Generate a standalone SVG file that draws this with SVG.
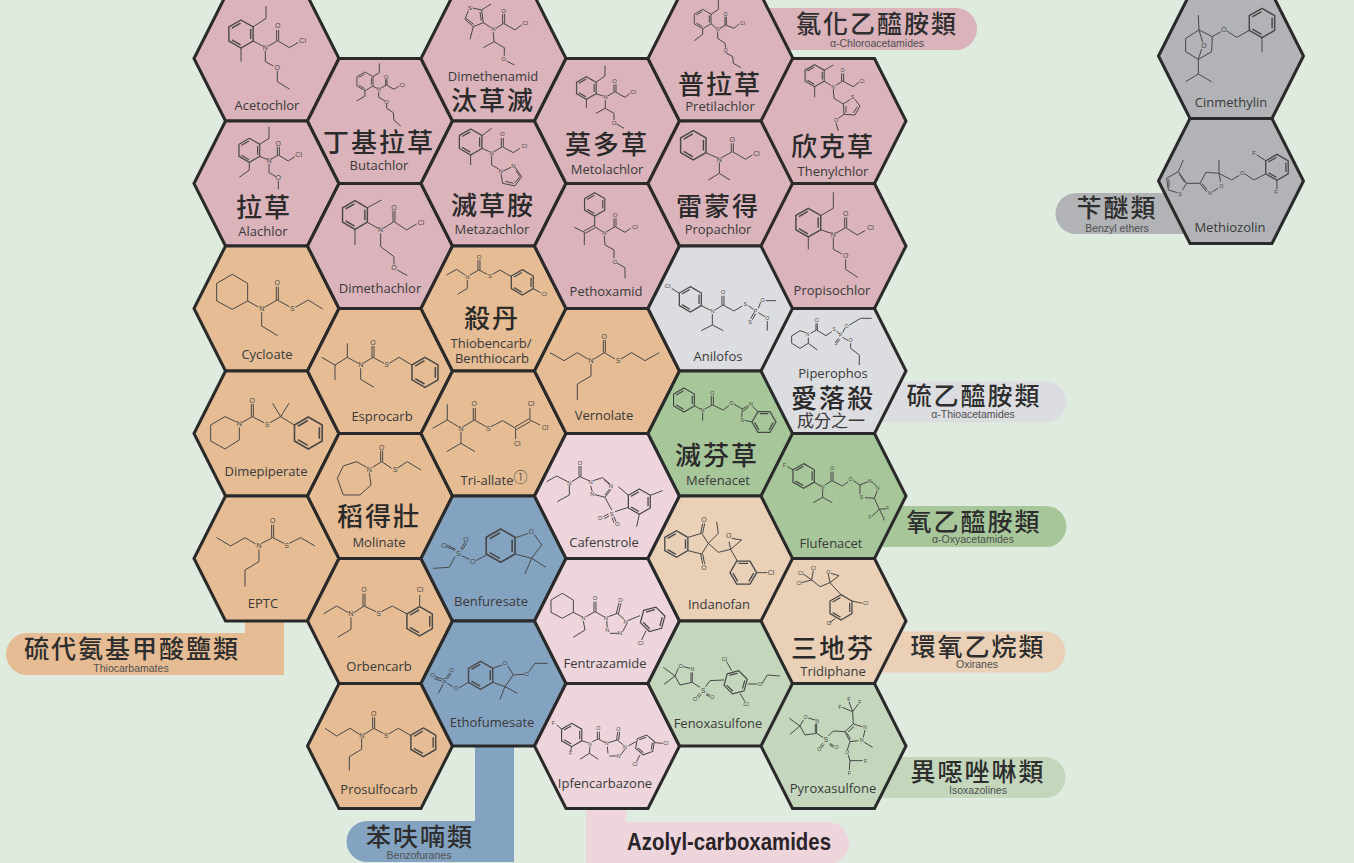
<svg xmlns="http://www.w3.org/2000/svg" xmlns:xlink="http://www.w3.org/1999/xlink" width="1354" height="863" viewBox="0 0 1354 863">
<style>
.hx{stroke:#2a2a2a;stroke-width:3;stroke-linejoin:miter}
.pink{fill:#dab3bb}.or{fill:#e5bc93}.gy{fill:#dcdde0}.gr{fill:#a7c79a}.lp{fill:#edd5db}.pe{fill:#e9d0b6}.lg{fill:#c4d7bd}.bl{fill:#84a3c1}.dg{fill:#b1b3b6}
.m path,.m use{fill:none;stroke:#484848;stroke-width:1;vector-effect:non-scaling-stroke}
.a{font:21px "Liberation Sans",sans-serif;fill:#484848;text-anchor:middle;dominant-baseline:central}
.n{font:13px "Open Sans",sans-serif;fill:#3a3a3a;text-anchor:middle}
.c{font:500 26px "Noto Sans CJK TC",sans-serif;fill:#2a2a2a;text-anchor:middle;letter-spacing:2px}
.l{font:500 25px "Noto Sans CJK TC",sans-serif;fill:#2e2e2e;text-anchor:middle;letter-spacing:2px}
.s{font:10.5px "Liberation Sans",sans-serif;fill:#505050;text-anchor:middle}
</style>
<defs>
<path id="hex" d="M-72.5 0L-41 -62.5H41L72.5 0L41 62.5H-41Z"/>
<path id="bz" d="M0 -10L8.66 -5V5L0 10L-8.66 5V-5ZM6.9 -3.6V3.6M-.33 7.78L-6.57 4.18M-6.57 -4.18L-.33 -7.78"/>
</defs>
<rect width="1354" height="863" fill="#e0ebdf"/>

<g id="legends">
<g id="leg-chloro"><path class="pink" d="M760 8H956a21 21 0 0 1 0 42H760Z"/></g>
<g id="leg-benzyl"><path class="dg" d="M1076 193H1190V234H1076a20.500 20.500 0 0 1 0 -41Z"/></g>
<g id="leg-thio"><path class="gy" d="M880 381.500H1046a20.500 20.500 0 0 1 0 41H880Z"/></g>
<g id="leg-oxy"><path class="gr" d="M880 506H1046a20.500 20.500 0 0 1 0 41H880Z"/></g>
<g id="leg-oxirane"><path class="pe" d="M880 631.500H1045a20.500 20.500 0 0 1 0 41H880Z"/></g>
<g id="leg-isox"><path class="lg" d="M880 757H1045a20.500 20.500 0 0 1 0 41H880Z"/></g>
<g id="leg-thiocarb"><path class="or" d="M27 633H245V615H284V675H27a21 21 0 0 1 0 -42Z"/></g>
<g id="leg-benzo"><path class="bl" d="M367 821H475V740H514V862H367a20.500 20.500 0 0 1 0 -41Z"/></g>
<g id="leg-azolyl"><path class="lp" d="M586 780H626V822H828a21 21 0 0 1 0 42H586Z"/></g>
</g>

<g id="connectors"></g>

<g id="acetochlor"><use href="#hex" class="hx pink" transform="translate(266.500 58.500)"/>
<g class="m" transform="translate(190 0) scale(.3333)"><use href="#bz" transform="translate(153 102) scale(4.200)"/><path d="M189 81L228 55V18M153 144V185M189 123L218 138M235 138L263 122M260 122V90M266 122V90M263 122L298 143L325 127M226 152V185L250 198M262 212V245L298 267"/><text class="a" x="263" y="78">O</text><text class="a" x="226" y="144">N</text><text class="a" x="338" y="122">Cl</text><text class="a" x="262" y="203">O</text></g>
<text class="n" x="267" y="110">Acetochlor</text></g>

<g id="alachlor"><use href="#hex" class="hx pink" transform="translate(266.500 183.500)"/>
<g class="m" transform="translate(190 0) scale(.3333)"><use href="#bz" transform="translate(178 451) scale(3.600)"/><path d="M209 433L237 415V380M178 487V510L148 532M209 469L230 478M243 478L265 465M262 465V440M268 465V440M265 465L295 483L315 470M237 492V518L258 530M265 542V568"/><text class="a" x="265" y="430">O</text><text class="a" x="237" y="483">N</text><text class="a" x="326" y="465">Cl</text><text class="a" x="265" y="532">O</text></g>
<text class="n" x="263" y="236">Alachlor</text><text class="c" x="264" y="217">拉草</text></g>

<g id="cycloate"><use href="#hex" class="hx or" transform="translate(266.500 308.500)"/>
<g class="m" transform="translate(190 240) scale(.3333)"><path d="M127 103L173 130V183L127 208L80 183V130ZM173 183L205 201M223 202L262 180M259 180V140M265 180V140M262 180L298 200M316 202L355 180L398 207M215 217V258L263 287"/><text class="a" x="262" y="128">O</text><text class="a" x="215" y="207">N</text><text class="a" x="307" y="207">S</text></g>
<text class="n" x="267" y="359">Cycloate</text></g>

<g id="dimepiperate"><use href="#hex" class="hx or" transform="translate(266.500 433.500)"/>
<g class="m" transform="translate(190 240) scale(.3333)"><use href="#bz" transform="translate(355 579) scale(4.800)"/><path d="M140 546L105 530L62 555V603L105 627L148 600V562M155 548L187 530M184 530V492M190 530V492M187 530L222 548M240 548L272 530M272 530L248 490M272 530L297 490M272 530L313 555"/><text class="a" x="187" y="481">O</text><text class="a" x="148" y="552">N</text><text class="a" x="231" y="553">S</text></g>
<text class="n" x="266" y="476">Dimepiperate</text></g>

<g id="eptc"><use href="#hex" class="hx or" transform="translate(266.500 558.500)"/>
<g class="m" transform="translate(190 490) scale(.3333)"><path d="M80 143L122 168L165 143L197 162M215 160L248 143M245 143V104M251 143V104M248 143L282 160M298 160L332 143L375 168M207 178V215L165 240V290"/><text class="a" x="248" y="93">O</text><text class="a" x="207" y="167">N</text><text class="a" x="290" y="167">S</text></g>
<text class="n" x="263" y="608">EPTC</text></g>

<g id="butachlor"><use href="#hex" class="hx pink" transform="translate(380 121)"/>
<g class="m" transform="translate(190 0) scale(.3333)"><use href="#bz" transform="translate(525 244) scale(2.800)"/><path d="M549 230L568 218V190M525 272V288L500 303M549 258L560 265M572 265L589 255M587 255V238M591 255V238M589 255L612 268L628 258M566 276V292L585 303M590 312V325L610 338L612 360L632 378"/><text class="a" x="589" y="230" style="font-size:17px">O</text><text class="a" x="566" y="268" style="font-size:17px">N</text><text class="a" x="637" y="255" style="font-size:17px">Cl</text><text class="a" x="590" y="305" style="font-size:17px">O</text></g>
<text class="c" x="379" y="152">丁基拉草</text><text class="n" x="379" y="170">Butachlor</text></g>

<g id="dimethachlor"><use href="#hex" class="hx pink" transform="translate(380 246)"/>
<g class="m" transform="translate(190 0) scale(.3333)"><use href="#bz" transform="translate(495 645) scale(4.300)"/><path d="M532 623L575 600M495 688V735M532 667L565 685M580 685L612 665M609 665V632M615 665V632M612 665L650 690L680 672M572 700V740L612 770V793M622 810L652 827"/><text class="a" x="612" y="622">O</text><text class="a" x="572" y="690">N</text><text class="a" x="693" y="667">Cl</text><text class="a" x="612" y="802">O</text></g>
<text class="n" x="380" y="293">Dimethachlor</text></g>

<g id="esprocarb"><use href="#hex" class="hx or" transform="translate(380 371)"/>
<g class="m" transform="translate(190 240) scale(.3333)"><use href="#bz" transform="translate(705 397) scale(4.500)"/><path d="M395 352L435 375L472 352L505 370M435 375V420M472 352V310M520 370L549 352M546 352V318M552 352V318M549 352L582 370M598 370L627 352L666 375M512 385V418L552 442"/><text class="a" x="549" y="308">O</text><text class="a" x="512" y="375">N</text><text class="a" x="590" y="375">S</text></g>
<text class="n" x="382" y="421">Esprocarb</text></g>

<g id="molinate"><use href="#hex" class="hx or" transform="translate(380 496)"/>
<g class="m" transform="translate(190 240) scale(.3333)"><path d="M530 682L500 665L460 678L442 715L460 765L510 765L543 735L538 698M548 682L575 665M572 665V632M578 665V632M575 665L605 685M623 684L652 665L693 690"/><text class="a" x="575" y="622">O</text><text class="a" x="538" y="688">N</text><text class="a" x="615" y="690">S</text></g>
<text class="c" x="379" y="526">稻得壯</text><text class="n" x="379" y="547">Molinate</text></g>

<g id="orbencarb"><use href="#hex" class="hx or" transform="translate(380 621)"/>
<g class="m" transform="translate(190 490) scale(.3333)"><use href="#bz" transform="translate(689 394) scale(4.400)"/><path d="M400 372L440 348L475 368M483 382V418L443 442M492 368L522 348M519 348V311M525 348V311M522 348L558 365M574 365L607 348L651 372M689 350V315"/><text class="a" x="522" y="300">O</text><text class="a" x="483" y="372">N</text><text class="a" x="566" y="372">S</text><text class="a" x="690" y="298">Cl</text></g>
<text class="n" x="379" y="671">Orbencarb</text></g>

<g id="prosulfocarb"><use href="#hex" class="hx or" transform="translate(380 746)"/>
<g class="m" transform="translate(190 490) scale(.3333)"><use href="#bz" transform="translate(700 757) scale(4.300)"/><path d="M405 715L440 738L480 715L508 733M515 745V778L478 800V842M523 733L551 715M548 715V682M554 715V682M551 715L580 730M596 732L625 715L663 737"/><text class="a" x="551" y="672">O</text><text class="a" x="515" y="737">N</text><text class="a" x="588" y="737">S</text></g>
<text class="n" x="379" y="794">Prosulfocarb</text></g>

<g id="dimethenamid"><use href="#hex" class="hx pink" transform="translate(493.500 58.500)"/>
<g class="m" transform="translate(190 0) scale(.3333)"><path d="M835 32L825 58L850 80L880 68L875 30L848 24M875 30L903 12M850 80L840 118M829 56L851 73M874 62L870 36M880 68L903 83M918 85L941 70M938 70V42M944 70V42M941 70L975 90L995 75M910 97L912 125L880 143M912 125L943 143V167M950 183L973 195"/><text class="a" x="840" y="25" style="font-size:18px">S</text><text class="a" x="910" y="88" style="font-size:18px">N</text><text class="a" x="941" y="32" style="font-size:18px">O</text><text class="a" x="1006" y="68" style="font-size:18px">Cl</text><text class="a" x="941" y="176" style="font-size:18px">O</text></g>
<text class="n" x="493" y="81">Dimethenamid</text><text class="c" x="493" y="110">汰草滅</text></g>

<g id="metazachlor"><use href="#hex" class="hx pink" transform="translate(493.500 183.500)"/>
<g class="m" transform="translate(190 0) scale(.3333)"><use href="#bz" transform="translate(842 426) scale(3.900)"/><path d="M876 407L905 385M842 465V495M876 445L898 455M912 455L937 440M934 440V414M940 440V414M937 440L970 458L990 445M905 466V495L926 507M940 513L963 502M976 503L995 530L975 558L938 550L933 521M978 512L990 530L973 550M946 544L970 550"/><text class="a" x="937" y="403" style="font-size:18px">O</text><text class="a" x="905" y="458" style="font-size:18px">N</text><text class="a" x="1003" y="438" style="font-size:18px">Cl</text><text class="a" x="932" y="512" style="font-size:18px">N</text><text class="a" x="970" y="497" style="font-size:18px">N</text></g>
<text class="c" x="493" y="215">滅草胺</text><text class="n" x="492" y="234">Metazachlor</text></g>

<g id="thiobencarb"><use href="#hex" class="hx or" transform="translate(493.500 308.500)"/>
<g class="m" transform="translate(190 240) scale(.3333)"><use href="#bz" transform="translate(997 127) scale(3.800)"/><path d="M770 105L800 88L825 105M832 120V145L803 163M840 105L867 90M864 90V60M870 90V60M867 90L892 103M908 103L930 90L964 110M1030 146L1052 158"/><text class="a" x="867" y="50" style="font-size:18px">O</text><text class="a" x="832" y="110" style="font-size:18px">N</text><text class="a" x="900" y="108" style="font-size:18px">S</text><text class="a" x="1063" y="162" style="font-size:18px">Cl</text></g>
<text class="c" x="492" y="328">殺丹</text><text class="n" x="491" y="348">Thiobencarb/</text><text class="n" x="492" y="363">Benthiocarb</text></g>

<g id="tri-allate"><use href="#hex" class="hx or" transform="translate(493.500 433.500)"/>
<g class="m" transform="translate(190 240) scale(.3333)"><path d="M728 565L772 540L805 560M772 540V493M820 560L853 540M850 540V504M856 540V504M853 540L888 560M903 560L938 542L977 565M975 561L1018 536M979 569L1022 544M1020 540V505M1020 540L1050 555M977 565V597M813 575V610L770 635M813 610L855 635"/><text class="a" x="853" y="492">O</text><text class="a" x="813" y="565">N</text><text class="a" x="895" y="565">S</text><text class="a" x="1023" y="492">Cl</text><text class="a" x="1065" y="563">Cl</text><text class="a" x="982" y="612">Cl</text></g>
<text class="n" x="494" y="485">Tri-allate<tspan font-size="14" dy="-3" font-family="Noto Sans CJK TC" font-weight="300">①</tspan></text></g>

<g id="benfuresate"><use href="#hex" class="hx bl" transform="translate(493.500 558.500)"/>
<g class="m" transform="translate(190 490) scale(.3333)"><use href="#bz" transform="translate(932 167) scale(5)"/><path d="M730 235L778 232L795 200M797 178L771 165M795 181L769 170M812 178L825 157M816 181L830 160M815 197L838 208M858 212L889 195M975 144L1015 130M1033 133L1055 165L1025 205L975 192M1025 205L1005 252M1025 205L1068 232"/><text class="a" x="805" y="190">S</text><text class="a" x="762" y="167">O</text><text class="a" x="828" y="148">O</text><text class="a" x="848" y="215">O</text><text class="a" x="1024" y="125">O</text></g>
<text class="n" x="491" y="606">Benfuresate</text></g>

<g id="ethofumesate"><use href="#hex" class="hx bl" transform="translate(493.500 683.500)"/>
<g class="m" transform="translate(190 490) scale(.3333)"><use href="#bz" transform="translate(872 556) scale(4.200)"/><path d="M735 560L756 567M733 566L754 573M768 564L780 548M772 567L784 551M760 582L745 610M772 580L788 590M808 593L836 577M908 535L937 525M953 527L970 555L945 590L908 577M945 590L930 628M945 590L982 610M970 555L1003 553M1017 545L1035 520H1073"/><text class="a" x="763" y="572">S</text><text class="a" x="728" y="555" style="font-size:18px">O</text><text class="a" x="785" y="540" style="font-size:18px">O</text><text class="a" x="798" y="595" style="font-size:18px">O</text><text class="a" x="945" y="520" style="font-size:18px">O</text><text class="a" x="1010" y="553" style="font-size:18px">O</text></g>
<text class="n" x="492" y="727">Ethofumesate</text></g>

<g id="metolachlor"><use href="#hex" class="hx pink" transform="translate(607 121)"/>
<g class="m" transform="translate(540 0) scale(.3333)"><use href="#bz" transform="translate(139 264) scale(3.400)"/><path d="M168 247L195 228V197M139 298V323M168 281L188 288M203 288L225 275M222 275V253M228 275V253M225 275L255 292L270 280M196 300V325L168 340M196 325L222 340V360M230 372L252 385"/><text class="a" x="224" y="243" style="font-size:18px">O</text><text class="a" x="196" y="292" style="font-size:18px">N</text><text class="a" x="280" y="275" style="font-size:18px">Cl</text><text class="a" x="222" y="368" style="font-size:18px">O</text></g>
<text class="c" x="607" y="154">莫多草</text><text class="n" x="607" y="174">Metolachlor</text></g>

<g id="pethoxamid"><use href="#hex" class="hx pink" transform="translate(607 246)"/>
<g class="m" transform="translate(540 0) scale(.3333)"><use href="#bz" transform="translate(164 613) scale(3.500)"/><path d="M164 648V680M161 677L131 694M166 683L136 700M133 697L103 682M133 697V735M164 680L187 695M200 695L225 680M222 680V655M228 680V655M225 680L255 697L272 685M193 708L195 735L222 750V775M232 790L255 803V835"/><text class="a" x="225" y="645" style="font-size:18px">O</text><text class="a" x="193" y="700" style="font-size:18px">N</text><text class="a" x="285" y="680" style="font-size:18px">Cl</text><text class="a" x="225" y="785" style="font-size:18px">O</text></g>
<text class="n" x="606" y="296">Pethoxamid</text></g>

<g id="vernolate"><use href="#hex" class="hx or" transform="translate(607 371)"/>
<g class="m" transform="translate(540 240) scale(.3333)"><path d="M30 338L72 362L112 338L145 358M161 358L193 338M190 338V300M196 338V300M193 338L225 357M243 357L275 338L315 362L358 338M153 372V408L112 432V480"/><text class="a" x="193" y="290">O</text><text class="a" x="153" y="362">N</text><text class="a" x="234" y="362">S</text></g>
<text class="n" x="604" y="420">Vernolate</text></g>

<g id="cafenstrole"><use href="#hex" class="hx lp" transform="translate(607 496)"/>
<g class="m" transform="translate(540 240) scale(.3333)"><use href="#bz" transform="translate(298 785) scale(3.800)"/><path d="M20 725L50 708L83 725M88 735V765L52 785M95 725L120 710M117 710V678M123 710V678M120 710L147 722M160 722L188 713L210 732M213 748L195 772L165 764M152 737L157 755M191 718L208 733M195 765L208 748M195 772L215 810M205 822L190 830M207 828L193 836M222 830L228 845M216 833L222 848M225 815L265 802M265 766L235 740M331 766L368 752M298 823L290 860"/><text class="a" x="88" y="728" style="font-size:18px">N</text><text class="a" x="120" y="668" style="font-size:18px">O</text><text class="a" x="152" y="727" style="font-size:18px">N</text><text class="a" x="213" y="738" style="font-size:18px">N</text><text class="a" x="157" y="763" style="font-size:18px">N</text><text class="a" x="215" y="822" style="font-size:18px">S</text><text class="a" x="180" y="835" style="font-size:18px">O</text><text class="a" x="232" y="853" style="font-size:18px">O</text></g>
<text class="n" x="604" y="547">Cafenstrole</text></g>

<g id="fentrazamide"><use href="#hex" class="hx lp" transform="translate(607 621)"/>
<g class="m" transform="translate(530 550) scale(.3333)"><use href="#bz" transform="translate(368 208) rotate(15) scale(3.800)"/><path d="M97 130L130 150V187L97 205L63 187V150ZM130 187L155 200M160 213L165 240L130 262M168 200L195 185M192 185V155M198 185V155M195 185L222 200M235 200L262 190L283 208M290 222L278 245M265 250H240M230 212L232 232M259 190L267 158M265 192L273 160M293 212L330 197M348 242L335 270"/><text class="a" x="160" y="205" style="font-size:18px">N</text><text class="a" x="195" y="145" style="font-size:18px">O</text><text class="a" x="228" y="203" style="font-size:18px">N</text><text class="a" x="272" y="150" style="font-size:18px">O</text><text class="a" x="287" y="215" style="font-size:18px">N</text><text class="a" x="270" y="250" style="font-size:18px">N</text><text class="a" x="232" y="240" style="font-size:18px">N</text><text class="a" x="332" y="278" style="font-size:18px">Cl</text></g>
<text class="n" x="605" y="668">Fentrazamide</text></g>

<g id="ipfencarbazone"><use href="#hex" class="hx lp" transform="translate(607 746)"/>
<g class="m" transform="translate(530 550) scale(.3333)"><use href="#bz" transform="translate(125 555) scale(3.500)"/><path d="M80 525L95 537M125 590L122 603M155 572L173 578M187 575L205 567M202 567V545M208 567V545M205 567L225 578M180 590L178 610L150 628M178 610L205 628M236 578L262 570L280 585M285 597L272 615M260 618H238M232 590L234 610M260 570L263 546M266 570L269 546M295 588L318 575M330 615L320 635M372 578L398 580"/><use href="#bz" transform="translate(345 585) rotate(10) scale(3)"/><text class="a" x="70" y="520" style="font-size:16px">F</text><text class="a" x="122" y="610" style="font-size:16px">F</text><text class="a" x="180" y="581" style="font-size:16px">N</text><text class="a" x="205" y="535" style="font-size:16px">O</text><text class="a" x="230" y="580" style="font-size:16px">N</text><text class="a" x="265" y="538" style="font-size:16px">O</text><text class="a" x="285" y="591" style="font-size:16px">N</text><text class="a" x="266" y="619" style="font-size:16px">N</text><text class="a" x="407" y="578" style="font-size:16px">Cl</text><text class="a" x="315" y="642" style="font-size:16px">Cl</text></g>
<text class="n" x="605" y="788">Ipfencarbazone</text></g>

<g id="pretilachlor"><use href="#hex" class="hx pink" transform="translate(720.500 58.500)"/>
<g class="m" transform="translate(540 0) scale(.3333)"><use href="#bz" transform="translate(488 57) scale(2.900)"/><path d="M513 43L535 28V0M488 86V103L463 122M513 71L527 83M540 85L557 75M555 75V50M559 75V50M557 75L582 85L597 72M533 95V115L555 130L557 143M557 158L578 170L580 190L603 203"/><text class="a" x="557" y="42" style="font-size:16px">O</text><text class="a" x="533" y="88" style="font-size:16px">N</text><text class="a" x="607" y="68" style="font-size:16px">Cl</text><text class="a" x="557" y="150" style="font-size:16px">O</text></g>
<text class="c" x="720" y="94">普拉草</text><text class="n" x="720" y="111">Pretilachlor</text></g>

<g id="propachlor"><use href="#hex" class="hx pink" transform="translate(720.500 183.500)"/>
<g class="m" transform="translate(540 0) scale(.3333)"><use href="#bz" transform="translate(460 436) scale(4.400)"/><path d="M498 458L530 473M545 473L577 455M574 455V430M580 455V430M577 455L617 478L637 465M538 487V520L505 540M538 520L570 540"/><text class="a" x="577" y="420">O</text><text class="a" x="538" y="478">N</text><text class="a" x="650" y="460">Cl</text></g>
<text class="c" x="718" y="216">雷蒙得</text><text class="n" x="718" y="234">Propachlor</text></g>

<g id="anilofos"><use href="#hex" class="hx gy" transform="translate(720.500 308.500)"/>
<g class="m" transform="translate(540 240) scale(.3333)"><use href="#bz" transform="translate(451 178) scale(3.800)"/><path d="M395 145L418 160M484 197L510 210M525 210L549 195M546 195V167M552 195V167M549 195L582 213L607 198M625 197L640 208M655 205L662 187M677 182H708M655 218L675 230M682 243V272M642 218L632 236M647 221L637 239M517 222V255L484 272M517 255L550 272"/><text class="a" x="383" y="137" style="font-size:18px">Cl</text><text class="a" x="517" y="213" style="font-size:18px">N</text><text class="a" x="549" y="157" style="font-size:18px">O</text><text class="a" x="616" y="193" style="font-size:16px">S</text><text class="a" x="647" y="212" style="font-size:16px">P</text><text class="a" x="668" y="180" style="font-size:16px">O</text><text class="a" x="682" y="235" style="font-size:16px">O</text><text class="a" x="630" y="245" style="font-size:16px">S</text></g>
<text class="n" x="718" y="361">Anilofos</text></g>

<g id="mefenacet"><use href="#hex" class="hx gr" transform="translate(720.500 433.500)"/>
<g class="m" transform="translate(540 240) scale(.3333)"><use href="#bz" transform="translate(432 480) scale(3.600)"/><use href="#bz" transform="translate(672 546) rotate(30) scale(3.600)"/><path d="M463 497L483 508M488 518V542M495 507L517 495M514 495V468M520 495V468M517 495L550 510L567 497M582 493L607 507M607 507L625 497M638 500L654 515M610 513L626 501M636 546L614 541M605 532L607 507"/><text class="a" x="488" y="510" style="font-size:16px">N</text><text class="a" x="517" y="458" style="font-size:16px">O</text><text class="a" x="574" y="490" style="font-size:16px">O</text><text class="a" x="633" y="493" style="font-size:16px">N</text><text class="a" x="607" y="540" style="font-size:16px">S</text></g>
<text class="c" x="717" y="465">滅芬草</text><text class="n" x="718" y="485">Mefenacet</text></g>

<g id="indanofan"><use href="#hex" class="hx pe" transform="translate(720.500 558.500)"/>
<g class="m" transform="translate(650 490) scale(.3333)"><use href="#bz" transform="translate(79 162) scale(4)"/><use href="#bz" transform="translate(280 248) rotate(30) scale(4)"/><path d="M114 142L155 130L175 160L155 192L114 182M152 130L158 100M158 130L164 100M152 192L158 222M158 192L164 222M175 160L205 130L200 95M175 160L205 187L242 178M242 178L237 155M245 145L275 150L242 178M262 213L242 178M320 248H352"/><text class="a" x="162" y="90">O</text><text class="a" x="162" y="232">O</text><text class="a" x="236" y="136">O</text><text class="a" x="363" y="248">Cl</text></g>
<text class="n" x="719" y="609">Indanofan</text></g>

<g id="fenoxasulfone"><use href="#hex" class="hx lg" transform="translate(720.500 683.500)"/>
<g class="m" transform="translate(530 550) scale(.3333)"><use href="#bz" transform="translate(617 397) rotate(15) scale(3.600)"/><path d="M445 355L435 378L450 405L487 397V367M483 395V368M460 350L480 355M435 378L400 352M435 378L402 403M487 397L510 412M527 410L540 392L582 390M510 430L500 440M514 434L504 444M530 430L540 436M528 434L538 440M605 362L590 335M630 430L645 455M653 402H682M697 400L712 375L750 378"/><text class="a" x="452" y="347" style="font-size:17px">O</text><text class="a" x="487" y="358" style="font-size:17px">N</text><text class="a" x="520" y="423" style="font-size:20px">S</text><text class="a" x="495" y="447" style="font-size:17px">O</text><text class="a" x="547" y="440" style="font-size:17px">O</text><text class="a" x="583" y="327" style="font-size:17px">Cl</text><text class="a" x="648" y="463" style="font-size:17px">Cl</text><text class="a" x="690" y="403" style="font-size:17px">O</text></g>
<text class="n" x="718" y="728">Fenoxasulfone</text></g>

<g id="thenylchlor"><use href="#hex" class="hx pink" transform="translate(833.500 121)"/>
<g class="m" transform="translate(540 0) scale(.3333)"><use href="#bz" transform="translate(824 227) scale(3.300)"/><path d="M853 211L880 195M824 260V292M853 244L873 256M888 256L908 243M905 243V220M911 243V220M908 243L940 260L957 247M880 268L882 295L910 312M910 312L931 298M945 298L960 318L945 345L912 343L910 312M952 320L940 339M918 338V318M912 343L895 355M888 368L895 393"/><text class="a" x="908" y="210" style="font-size:16px">O</text><text class="a" x="880" y="260" style="font-size:16px">N</text><text class="a" x="966" y="243" style="font-size:16px">Cl</text><text class="a" x="938" y="292" style="font-size:16px">S</text><text class="a" x="888" y="360" style="font-size:16px">O</text></g>
<text class="c" x="833" y="156">欣克草</text><text class="n" x="833" y="176">Thenylchlor</text></g>

<g id="propisochlor"><use href="#hex" class="hx pink" transform="translate(833.500 246)"/>
<g class="m" transform="translate(540 0) scale(.3333)"><use href="#bz" transform="translate(805 668) scale(4.300)"/><path d="M842 647L880 625V577M805 711V748M842 689L873 700M887 700L917 683M914 683V652M920 683V652M917 683L952 705L975 692M880 713V748L906 762M917 778V808L953 832"/><text class="a" x="917" y="640">O</text><text class="a" x="880" y="705">N</text><text class="a" x="992" y="683">Cl</text><text class="a" x="917" y="768">O</text></g>
<text class="n" x="832" y="295">Propisochlor</text></g>

<g id="piperophos"><use href="#hex" class="hx gy" transform="translate(833.500 371)"/>
<g class="m" transform="translate(540 240) scale(.3333)"><path d="M797 278L780 272L755 288V310L780 325L805 310V293M805 310L832 330M812 280L830 270M828 270V250M832 270V250M830 270L858 287L875 275M890 273L898 282M908 278L915 264M928 255L962 235H995M908 292L925 302M932 310V325L958 345V375M896 295L888 305M900 298L892 308"/><text class="a" x="803" y="285" style="font-size:14px">N</text><text class="a" x="830" y="240" style="font-size:16px">O</text><text class="a" x="882" y="270" style="font-size:14px">S</text><text class="a" x="902" y="287" style="font-size:14px">P</text><text class="a" x="920" y="258" style="font-size:16px">O</text><text class="a" x="932" y="300" style="font-size:16px">O</text><text class="a" x="888" y="312" style="font-size:14px">S</text></g>
<text class="n" x="833" y="378">Piperophos</text><text class="c" x="833" y="408">愛落殺</text><text class="n" x="831" y="427" style="font-family:'Noto Sans CJK TC';font-size:17px">成分之一</text></g>

<g id="flufenacet"><use href="#hex" class="hx gr" transform="translate(833.500 496)"/>
<g class="m" transform="translate(540 240) scale(.3333)"><use href="#bz" transform="translate(791 708) scale(3.700)"/><path d="M742 680L760 690M822 727L843 738M855 735L876 722M873 722V695M879 722V695M876 722L907 738L925 725M940 722L960 735M960 735L984 725M996 725L1010 738M1012 752L1003 775L975 773M960 763L960 735M1003 775L1018 808M1018 808L1038 806M1018 808L995 830M1018 808L1030 832M848 748V772L820 788M848 772L877 788"/><text class="a" x="733" y="675" style="font-size:16px">F</text><text class="a" x="848" y="740" style="font-size:16px">N</text><text class="a" x="876" y="685" style="font-size:16px">O</text><text class="a" x="932" y="718" style="font-size:16px">O</text><text class="a" x="990" y="722" style="font-size:16px">N</text><text class="a" x="1013" y="745" style="font-size:16px">N</text><text class="a" x="965" y="772" style="font-size:16px">S</text><text class="a" x="1043" y="805" style="font-size:14px">F</text><text class="a" x="990" y="833" style="font-size:14px">F</text><text class="a" x="1032" y="838" style="font-size:14px">F</text></g>
<text class="n" x="831" y="548">Flufenacet</text></g>

<g id="tridiphane"><use href="#hex" class="hx pe" transform="translate(833.500 621)"/>
<g class="m" transform="translate(530 550) scale(.3333)"><use href="#bz" transform="translate(933 172) scale(3.800)"/><path d="M845 90L850 62M845 90L820 72M845 90L815 98M845 90L870 110L900 98M900 98L895 72M903 70L927 77L900 98M900 98L933 134M966 153L997 160M916 206L898 218"/><text class="a" x="850" y="55" style="font-size:16px">Cl</text><text class="a" x="812" y="68" style="font-size:16px">Cl</text><text class="a" x="807" y="100" style="font-size:16px">Cl</text><text class="a" x="895" y="65" style="font-size:16px">O</text><text class="a" x="1007" y="158" style="font-size:16px">Cl</text><text class="a" x="897" y="220" style="font-size:16px">Cl</text></g>
<text class="c" x="833" y="658">三地芬</text><text class="n" x="833" y="676">Tridiphane</text></g>

<g id="pyroxasulfone"><use href="#hex" class="hx lg" transform="translate(833.500 746)"/>
<g class="m" transform="translate(530 550) scale(.3333)"><path d="M820 510L810 528L825 555L860 550V520M856 548V522M835 504L855 510M810 528L778 505M810 528L780 553M860 550L880 563M895 558L910 543L945 545M945 545L970 522L997 530M1005 540L1000 562M985 572L960 575L945 545M954 546L972 530M962 568L950 548M970 522L968 485M968 485L937 472M968 485L957 455M968 485L985 462M1003 577L1028 592M960 575L952 600M955 615L960 632L998 632M960 632L958 660M878 580L870 590M882 584L874 594M900 580L912 588M898 584L910 592"/><text class="a" x="827" y="502" style="font-size:16px">O</text><text class="a" x="862" y="512" style="font-size:16px">N</text><text class="a" x="888" y="570" style="font-size:20px">S</text><text class="a" x="868" y="598" style="font-size:16px">O</text><text class="a" x="920" y="590" style="font-size:16px">O</text><text class="a" x="1005" y="532" style="font-size:16px">N</text><text class="a" x="995" y="570" style="font-size:16px">N</text><text class="a" x="930" y="470" style="font-size:16px">F</text><text class="a" x="957" y="448" style="font-size:16px">F</text><text class="a" x="990" y="457" style="font-size:16px">F</text><text class="a" x="952" y="607" style="font-size:16px">O</text><text class="a" x="1007" y="632" style="font-size:16px">F</text><text class="a" x="958" y="668" style="font-size:16px">F</text></g>
<text class="n" x="833" y="793">Pyroxasulfone</text></g>

<g id="cinmethylin"><use href="#hex" class="hx dg" transform="translate(1231 56)"/>
<g class="m" transform="translate(1050 0) scale(.3333)"><use href="#bz" transform="translate(636 69) scale(4.400)"/><path d="M445 45L447 90L407 115V155L445 178L485 155L487 110L447 90L458 127M455 147L445 178V222L407 245M445 222L485 245M487 110L513 95M530 93L560 112L598 91M636 113V157"/><text class="a" x="522" y="90">O</text><text class="a" x="462" y="137">O</text></g>
<text class="n" x="1231" y="107">Cinmethylin</text></g>

<g id="methiozolin"><use href="#hex" class="hx dg" transform="translate(1231 181)"/>
<g class="m" transform="translate(1050 0) scale(.3333)"><use href="#bz" transform="translate(681 502) scale(3.900)"/><path d="M382 578L355 570L350 535L385 515L410 550L397 570M357 563V538M388 523L405 548M385 515L400 480M410 550H450M450 550L468 517L507 520L512 545M504 565L488 575M470 576L450 550M456 550L472 570M507 520V480M507 520L545 540L568 526M585 522L612 540L647 522M620 465L647 482M681 541V568"/><text class="a" x="390" y="582" style="font-size:16px">S</text><text class="a" x="514" y="558" style="font-size:16px">O</text><text class="a" x="480" y="578" style="font-size:16px">N</text><text class="a" x="577" y="520" style="font-size:18px">O</text><text class="a" x="612" y="460" style="font-size:18px">F</text><text class="a" x="678" y="577" style="font-size:18px">F</text></g>
<text class="n" x="1230" y="232">Methiozolin</text></g>

<g id="legend-text">
<text class="l" x="877" y="33">氯化乙醯胺類</text><text class="s" x="877" y="47">α-Chloroacetamides</text>
<text class="l" x="1117" y="217">苄醚類</text><text class="s" x="1117" y="232">Benzyl ethers</text>
<text class="l" x="974" y="405">硫乙醯胺類</text><text class="s" x="973" y="418">α-Thioacetamides</text>
<text class="l" x="974" y="531">氧乙醯胺類</text><text class="s" x="973" y="543">α-Oxyacetamides</text>
<text class="l" x="978" y="656">環氧乙烷類</text><text class="s" x="977" y="668">Oxiranes</text>
<text class="l" x="978" y="781">異噁唑啉類</text><text class="s" x="978" y="794">Isoxazolines</text>
<text class="l" x="132" y="658">硫代氨基甲酸鹽類</text><text class="s" x="131" y="672">Thiocarbamates</text>
<text class="l" x="420" y="846">苯呋喃類</text><text class="s" x="419" y="859">Benzofuranes</text>
<text x="729" y="850" font-family="Liberation Sans" font-weight="700" font-size="24.500" fill="#2a2328" text-anchor="middle" textLength="204" lengthAdjust="spacingAndGlyphs">Azolyl-carboxamides</text>
</g>
</svg>
